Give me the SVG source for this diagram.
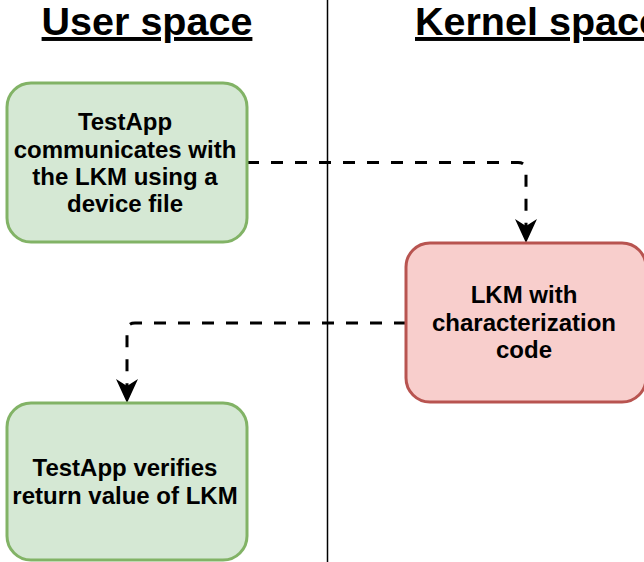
<svg xmlns="http://www.w3.org/2000/svg" width="644" height="562" viewBox="0 0 644 562">
<style>
.title{font-family:"Liberation Sans",Arial,sans-serif;font-weight:bold;font-size:39.5px;fill:#000;text-decoration:underline;}
.lbl{font-family:"Liberation Sans",Arial,sans-serif;font-weight:bold;font-size:24px;fill:#000;text-anchor:middle;}
.green{fill:#d5e8d4;stroke:#82b366;stroke-width:3;}
.red{fill:#f8cecc;stroke:#b85450;stroke-width:3;}
.conn{fill:none;stroke:#000;stroke-width:3;stroke-dasharray:12 12;}
</style>
<defs>
<marker id="arr" viewBox="0 0 24 22" refX="7" refY="11" markerWidth="24" markerHeight="22" markerUnits="userSpaceOnUse" orient="auto">
<path d="M0,0 L24,11 L0,22 L7,11 Z" fill="#000"/>
</marker>
</defs>
<rect width="644" height="562" fill="#fff"/>
<g id="titles">
<text class="title" x="147" y="35" text-anchor="middle">User space</text>
<text class="title" x="415" y="35">Kernel space</text>
</g>
<g id="divider">
<line x1="327.5" y1="0" x2="327.5" y2="562" stroke="#000" stroke-width="1.5"/>
</g>
<g id="connectors">
<path class="conn" d="M247,162.5 H518 Q526,162.5 526,170.5 V226" marker-end="url(#arr)"/>
<path class="conn" d="M406,323 H135 Q127,323 127,331 V386" marker-end="url(#arr)"/>
</g>
<g id="node-testapp-comm">
<rect class="green" x="7" y="83" width="240" height="159" rx="24" ry="24"/>
<text class="lbl" x="125" y="130">TestApp</text>
<text class="lbl" x="125" y="157.5">communicates with</text>
<text class="lbl" x="125" y="185">the LKM using a</text>
<text class="lbl" x="125" y="212">device file</text>
</g>
<g id="node-lkm">
<rect class="red" x="406" y="243" width="240" height="159" rx="24" ry="24"/>
<text class="lbl" x="524" y="303">LKM with</text>
<text class="lbl" x="524" y="330.5">characterization</text>
<text class="lbl" x="524" y="358">code</text>
</g>
<g id="node-testapp-verify">
<rect class="green" x="7" y="403" width="240" height="157" rx="24" ry="24"/>
<text class="lbl" x="125" y="476">TestApp verifies</text>
<text class="lbl" x="125" y="503.5">return value of LKM</text>
</g>
</svg>
